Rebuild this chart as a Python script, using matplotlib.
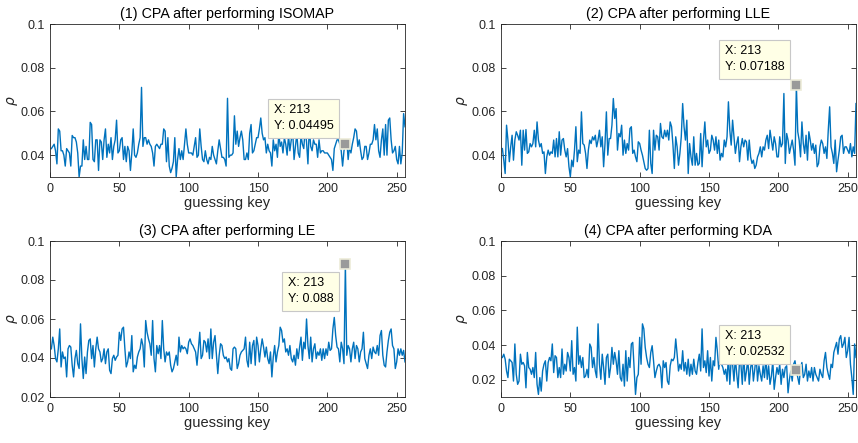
import matplotlib
matplotlib.use("Agg")
import matplotlib.pyplot as plt
import numpy as np
from matplotlib.ticker import FuncFormatter

plt.rcParams['font.family'] = ['Liberation Sans', 'DejaVu Sans']

keys = np.arange(1, 257)

isomap = [
    0.043, 0.044, 0.045, 0.042, 0.036, 0.052, 0.051, 0.042, 0.042, 0.040, 0.035, 0.043, 0.042, 0.041, 0.035, 0.049,
    0.048, 0.048, 0.046, 0.041, 0.030, 0.035, 0.035, 0.047, 0.038, 0.044, 0.038, 0.038, 0.055, 0.054, 0.038, 0.037,
    0.047, 0.047, 0.033, 0.047, 0.046, 0.038, 0.047, 0.052, 0.039, 0.045, 0.041, 0.048, 0.038, 0.044, 0.047, 0.056,
    0.041, 0.042, 0.047, 0.048, 0.038, 0.044, 0.037, 0.044, 0.042, 0.033, 0.041, 0.052, 0.040, 0.039, 0.041, 0.045,
    0.048, 0.071, 0.044, 0.048, 0.048, 0.045, 0.047, 0.045, 0.044, 0.041, 0.035, 0.044, 0.045, 0.044, 0.043, 0.045,
    0.045, 0.052, 0.051, 0.037, 0.048, 0.035, 0.032, 0.034, 0.037, 0.048, 0.030, 0.038, 0.043, 0.038, 0.042, 0.038,
    0.045, 0.052, 0.045, 0.041, 0.041, 0.041, 0.040, 0.044, 0.048, 0.039, 0.040, 0.052, 0.044, 0.038, 0.037, 0.042,
    0.038, 0.036, 0.039, 0.038, 0.044, 0.040, 0.038, 0.036, 0.042, 0.047, 0.043, 0.039, 0.039, 0.038, 0.035, 0.066,
    0.039, 0.040, 0.040, 0.041, 0.058, 0.045, 0.051, 0.044, 0.048, 0.051, 0.047, 0.038, 0.038, 0.041, 0.038, 0.050,
    0.054, 0.041, 0.042, 0.045, 0.048, 0.048, 0.052, 0.057, 0.050, 0.047, 0.048, 0.041, 0.045, 0.042, 0.041, 0.035,
    0.047, 0.042, 0.045, 0.039, 0.050, 0.044, 0.046, 0.041, 0.048, 0.045, 0.040, 0.049, 0.042, 0.047, 0.051, 0.038,
    0.044, 0.050, 0.041, 0.039, 0.049, 0.045, 0.043, 0.052, 0.046, 0.036, 0.053, 0.044, 0.042, 0.047, 0.045, 0.045,
    0.039, 0.047, 0.041, 0.042, 0.042, 0.041, 0.041, 0.041, 0.040, 0.039, 0.038, 0.033, 0.043, 0.045, 0.047, 0.047,
    0.045, 0.042, 0.035, 0.042, 0.04495, 0.047, 0.038, 0.044, 0.041, 0.045, 0.048, 0.052, 0.051, 0.044, 0.047, 0.042,
    0.038, 0.039, 0.044, 0.044, 0.038, 0.041, 0.045, 0.045, 0.047, 0.054, 0.047, 0.052, 0.042, 0.039, 0.047, 0.052,
    0.040, 0.054, 0.040, 0.056, 0.057, 0.047, 0.041, 0.042, 0.044, 0.038, 0.036, 0.044, 0.036, 0.041, 0.059, 0.053,
]

lle = [
    0.0430, 0.0377, 0.0316, 0.0537, 0.0469, 0.0370, 0.0438, 0.0491, 0.0377, 0.0469, 0.0507, 0.0491, 0.0469, 0.0514, 0.0354, 0.0514,
    0.0423, 0.0517, 0.0408, 0.0415, 0.0453, 0.0438, 0.0453, 0.0514, 0.0438, 0.0552, 0.0469, 0.0438, 0.0453, 0.0408, 0.0415, 0.0316,
    0.0392, 0.0423, 0.0400, 0.0415, 0.0408, 0.0469, 0.0392, 0.0476, 0.0392, 0.0507, 0.0400, 0.0469, 0.0476, 0.0423, 0.0392, 0.0430,
    0.0347, 0.0301, 0.0377, 0.0347, 0.0423, 0.0530, 0.0370, 0.0423, 0.0408, 0.0598, 0.0453, 0.0446, 0.0408, 0.0339, 0.0423, 0.0469,
    0.0453, 0.0484, 0.0469, 0.0491, 0.0438, 0.0469, 0.0514, 0.0438, 0.0484, 0.0347, 0.0453, 0.0598, 0.0400, 0.0476, 0.0476, 0.0537,
    0.0659, 0.0568, 0.0613, 0.0423, 0.0499, 0.0484, 0.0537, 0.0400, 0.0469, 0.0408, 0.0453, 0.0423, 0.0522, 0.0530, 0.0408, 0.0423,
    0.0392, 0.0370, 0.0461, 0.0453, 0.0423, 0.0400, 0.0370, 0.0339, 0.0331, 0.0339, 0.0514, 0.0362, 0.0316, 0.0514, 0.0423, 0.0491,
    0.0484, 0.0423, 0.0545, 0.0484, 0.0476, 0.0514, 0.0484, 0.0514, 0.0469, 0.0552, 0.0530, 0.0446, 0.0339, 0.0484, 0.0438, 0.0354,
    0.0408, 0.0484, 0.0636, 0.0530, 0.0469, 0.0560, 0.0316, 0.0453, 0.0392, 0.0354, 0.0484, 0.0354, 0.0408, 0.0354, 0.0362, 0.0499,
    0.0347, 0.0469, 0.0552, 0.0438, 0.0469, 0.0408, 0.0423, 0.0491, 0.0469, 0.0423, 0.0484, 0.0408, 0.0469, 0.0377, 0.0408, 0.0392,
    0.0469, 0.0438, 0.0484, 0.0644, 0.0514, 0.0446, 0.0560, 0.0484, 0.0408, 0.0453, 0.0484, 0.0370, 0.0438, 0.0476, 0.0438, 0.0469,
    0.0461, 0.0377, 0.0469, 0.0392, 0.0362, 0.0377, 0.0339, 0.0354, 0.0392, 0.0408, 0.0438, 0.0392, 0.0438, 0.0423, 0.0469, 0.0491,
    0.0430, 0.0514, 0.0469, 0.0423, 0.0484, 0.0453, 0.0392, 0.0392, 0.0484, 0.0438, 0.0453, 0.0682, 0.0362, 0.0499, 0.0469, 0.0408,
    0.0438, 0.0469, 0.0423, 0.0354, 0.07188, 0.0507, 0.0469, 0.0392, 0.0552, 0.0453, 0.0408, 0.0491, 0.0377, 0.0507, 0.0469, 0.0423,
    0.0453, 0.0408, 0.0446, 0.0347, 0.0362, 0.0438, 0.0469, 0.0453, 0.0408, 0.0438, 0.0385, 0.0514, 0.0621, 0.0438, 0.0408, 0.0362,
    0.0469, 0.0324, 0.0377, 0.0423, 0.0484, 0.0491, 0.0408, 0.0438, 0.0438, 0.0423, 0.0408, 0.0453, 0.0392, 0.0438, 0.0408, 0.0636,
]

le = [
    0.0447, 0.0507, 0.0464, 0.0397, 0.0380, 0.0447, 0.0549, 0.0354, 0.0431, 0.0397, 0.0405, 0.0303, 0.0447, 0.0464, 0.0456, 0.0363,
    0.0303, 0.0397, 0.0439, 0.0371, 0.0346, 0.0575, 0.0397, 0.0295, 0.0405, 0.0320, 0.0431, 0.0490, 0.0498, 0.0397, 0.0464, 0.0354,
    0.0447, 0.0507, 0.0447, 0.0431, 0.0380, 0.0397, 0.0447, 0.0371, 0.0431, 0.0447, 0.0337, 0.0320, 0.0397, 0.0414, 0.0388, 0.0405,
    0.0414, 0.0532, 0.0490, 0.0549, 0.0558, 0.0447, 0.0354, 0.0380, 0.0431, 0.0397, 0.0515, 0.0329, 0.0363, 0.0346, 0.0405, 0.0431,
    0.0447, 0.0498, 0.0464, 0.0354, 0.0592, 0.0532, 0.0498, 0.0473, 0.0414, 0.0592, 0.0397, 0.0329, 0.0464, 0.0422, 0.0464, 0.0397,
    0.0592, 0.0447, 0.0380, 0.0431, 0.0414, 0.0431, 0.0363, 0.0329, 0.0346, 0.0380, 0.0414, 0.0363, 0.0507, 0.0431, 0.0464, 0.0447,
    0.0456, 0.0447, 0.0422, 0.0481, 0.0498, 0.0473, 0.0464, 0.0447, 0.0431, 0.0363, 0.0447, 0.0532, 0.0397, 0.0414, 0.0490, 0.0481,
    0.0431, 0.0498, 0.0397, 0.0549, 0.0397, 0.0481, 0.0515, 0.0414, 0.0320, 0.0414, 0.0473, 0.0464, 0.0414, 0.0397, 0.0405, 0.0380,
    0.0397, 0.0346, 0.0337, 0.0447, 0.0456, 0.0447, 0.0346, 0.0371, 0.0414, 0.0431, 0.0439, 0.0447, 0.0507, 0.0388, 0.0354, 0.0481,
    0.0371, 0.0464, 0.0490, 0.0363, 0.0507, 0.0464, 0.0380, 0.0447, 0.0498, 0.0456, 0.0405, 0.0456, 0.0397, 0.0371, 0.0431, 0.0303,
    0.0405, 0.0464, 0.0380, 0.0431, 0.0464, 0.0558, 0.0541, 0.0481, 0.0498, 0.0431, 0.0447, 0.0414, 0.0464, 0.0397, 0.0380, 0.0414,
    0.0363, 0.0447, 0.0397, 0.0456, 0.0507, 0.0388, 0.0481, 0.0447, 0.0600, 0.0464, 0.0397, 0.0507, 0.0380, 0.0447, 0.0473, 0.0397,
    0.0431, 0.0414, 0.0447, 0.0388, 0.0447, 0.0397, 0.0447, 0.0414, 0.0481, 0.0439, 0.0447, 0.0549, 0.0608, 0.0515, 0.0456, 0.0447,
    0.0380, 0.0481, 0.0447, 0.0371, 0.0880, 0.0414, 0.0464, 0.0447, 0.0380, 0.0447, 0.0481, 0.0397, 0.0464, 0.0447, 0.0380, 0.0431,
    0.0447, 0.0532, 0.0397, 0.0371, 0.0346, 0.0414, 0.0447, 0.0397, 0.0456, 0.0431, 0.0422, 0.0464, 0.0414, 0.0515, 0.0541, 0.0414,
    0.0363, 0.0354, 0.0431, 0.0490, 0.0532, 0.0549, 0.0464, 0.0447, 0.0346, 0.0380, 0.0447, 0.0414, 0.0447, 0.0414, 0.0439, 0.0380,
]

kda = [
    0.0328, 0.0347, 0.0318, 0.0250, 0.0212, 0.0318, 0.0309, 0.0299, 0.0192, 0.0406, 0.0231, 0.0173, 0.0192, 0.0347, 0.0289, 0.0299,
    0.0280, 0.0153, 0.0357, 0.0270, 0.0260, 0.0231, 0.0270, 0.0212, 0.0357, 0.0173, 0.0115, 0.0212, 0.0134, 0.0250, 0.0289, 0.0309,
    0.0192, 0.0299, 0.0328, 0.0309, 0.0406, 0.0241, 0.0338, 0.0328, 0.0212, 0.0270, 0.0212, 0.0377, 0.0231, 0.0289, 0.0250, 0.0357,
    0.0328, 0.0250, 0.0425, 0.0231, 0.0270, 0.0192, 0.0503, 0.0289, 0.0338, 0.0270, 0.0328, 0.0212, 0.0221, 0.0260, 0.0212, 0.0406,
    0.0386, 0.0270, 0.0328, 0.0250, 0.0212, 0.0522, 0.0289, 0.0202, 0.0347, 0.0270, 0.0173, 0.0328, 0.0347, 0.0212, 0.0270, 0.0386,
    0.0289, 0.0357, 0.0309, 0.0231, 0.0367, 0.0212, 0.0192, 0.0289, 0.0163, 0.0367, 0.0192, 0.0328, 0.0270, 0.0406, 0.0415, 0.0260,
    0.0115, 0.0212, 0.0231, 0.0444, 0.0289, 0.0522, 0.0493, 0.0386, 0.0328, 0.0289, 0.0270, 0.0357, 0.0396, 0.0309, 0.0212, 0.0250,
    0.0280, 0.0289, 0.0270, 0.0153, 0.0309, 0.0270, 0.0299, 0.0192, 0.0173, 0.0280, 0.0318, 0.0309, 0.0328, 0.0435, 0.0347, 0.0250,
    0.0289, 0.0260, 0.0367, 0.0250, 0.0299, 0.0231, 0.0318, 0.0221, 0.0289, 0.0231, 0.0318, 0.0250, 0.0231, 0.0299, 0.0347, 0.0250,
    0.0493, 0.0270, 0.0309, 0.0241, 0.0367, 0.0221, 0.0328, 0.0192, 0.0309, 0.0280, 0.0444, 0.0367, 0.0260, 0.0328, 0.0289, 0.0270,
    0.0231, 0.0260, 0.0192, 0.0340, 0.0173, 0.0320, 0.0289, 0.0192, 0.0330, 0.0231, 0.0153, 0.0310, 0.0289, 0.0173, 0.0350, 0.0192,
    0.0250, 0.0320, 0.0173, 0.0270, 0.0310, 0.0192, 0.0260, 0.0340, 0.0192, 0.0280, 0.0231, 0.0192, 0.0280, 0.0212, 0.0330, 0.0202,
    0.0280, 0.0173, 0.0221, 0.0310, 0.0144, 0.0212, 0.0270, 0.0231, 0.0289, 0.0173, 0.0260, 0.0212, 0.0270, 0.0280, 0.0124, 0.0202,
    0.0250, 0.0192, 0.0289, 0.0309, 0.02532, 0.0212, 0.0173, 0.0270, 0.0299, 0.0212, 0.0231, 0.0289, 0.0192, 0.0250, 0.0212, 0.0270,
    0.0192, 0.0270, 0.0231, 0.0212, 0.0192, 0.0260, 0.0231, 0.0212, 0.0309, 0.0357, 0.0270, 0.0231, 0.0202, 0.0289, 0.0270, 0.0357,
    0.0386, 0.0415, 0.0347, 0.0435, 0.0454, 0.0386, 0.0406, 0.0444, 0.0328, 0.0367, 0.0444, 0.0289, 0.0212, 0.0115, 0.0406, 0.0328,
]

titles = ["(1) CPA after performing ISOMAP", "(2) CPA after performing LLE",
          "(3) CPA after performing LE", "(4) CPA after performing KDA"]
series = [isomap, lle, le, kda]
ylims = [(0.03, 0.1), (0.03, 0.1), (0.02, 0.1), (0.01, 0.1)]
yticks = [[0.04, 0.06, 0.08, 0.1], [0.04, 0.06, 0.08, 0.1],
          [0.02, 0.04, 0.06, 0.08, 0.1], [0.02, 0.04, 0.06, 0.08, 0.1]]
xticks = [0, 50, 100, 150, 200, 250]
tip_key = 213
tip_below = [False, False, True, False]

W, H = 858, 443
fig = plt.figure(figsize=(W / 100, H / 100), dpi=100)
boxes = [(50, 24, 405, 177), (501, 24, 856, 177), (50, 241, 405, 397), (501, 241, 856, 397)]
ylabel_x = [12, 462, 12, 462]

axcol = '#262626'
for i in range(4):
    x0, y0, x1, y1 = boxes[i]
    ax = fig.add_axes([x0 / W, 1 - y1 / H, (x1 - x0) / W, (y1 - y0) / H])
    y = np.array(series[i])
    ax.plot(keys, y, color='#0072BD', lw=1.0)
    ax.set_xlim(0, 256)
    ax.set_ylim(*ylims[i])
    ax.set_xticks(xticks)
    ax.set_yticks(yticks[i])
    ax.yaxis.set_major_formatter(FuncFormatter(lambda v, p: '%g' % v))
    ax.tick_params(direction='in', length=3.5, width=0.6, top=True, right=True,
                   labelsize=9, colors=axcol, pad=4)
    for s in ax.spines.values():
        s.set_color(axcol)
        s.set_linewidth(0.6)
    ax.set_title(titles[i], fontsize=10.3, pad=4, color='black')
    ax.set_xlabel('guessing key', fontsize=10.5, color=axcol, labelpad=1)
    ax.set_ylabel(r'$\rho$', fontsize=10, color=axcol, ha='center', va='center')
    ax.yaxis.set_label_coords((ylabel_x[i] - x0) / (x1 - x0), 0.5)
    yv = y[tip_key - 1]
    ax.plot([tip_key], [yv], 's', ms=7, mfc='#9a9a9a', mec='#ecebd8', mew=1.2,
            zorder=5, clip_on=False)
    if tip_below[i]:
        off, va = (-12, -13), 'top'
    else:
        off, va = (-12, 12), 'bottom'
    ax.annotate('X: %d\nY: %s' % (tip_key, ('%.5f' % yv).rstrip('0')),
                xy=(tip_key, yv), xytext=off, textcoords='offset pixels',
                ha='right', va=va, multialignment='left', fontsize=9,
                color='black', linespacing=1.45,
                bbox=dict(boxstyle='square,pad=0.42', fc='#ffffe6', ec='#c8c8c8', lw=0.8),
                zorder=6)

fig.savefig('out.png', dpi=100)
